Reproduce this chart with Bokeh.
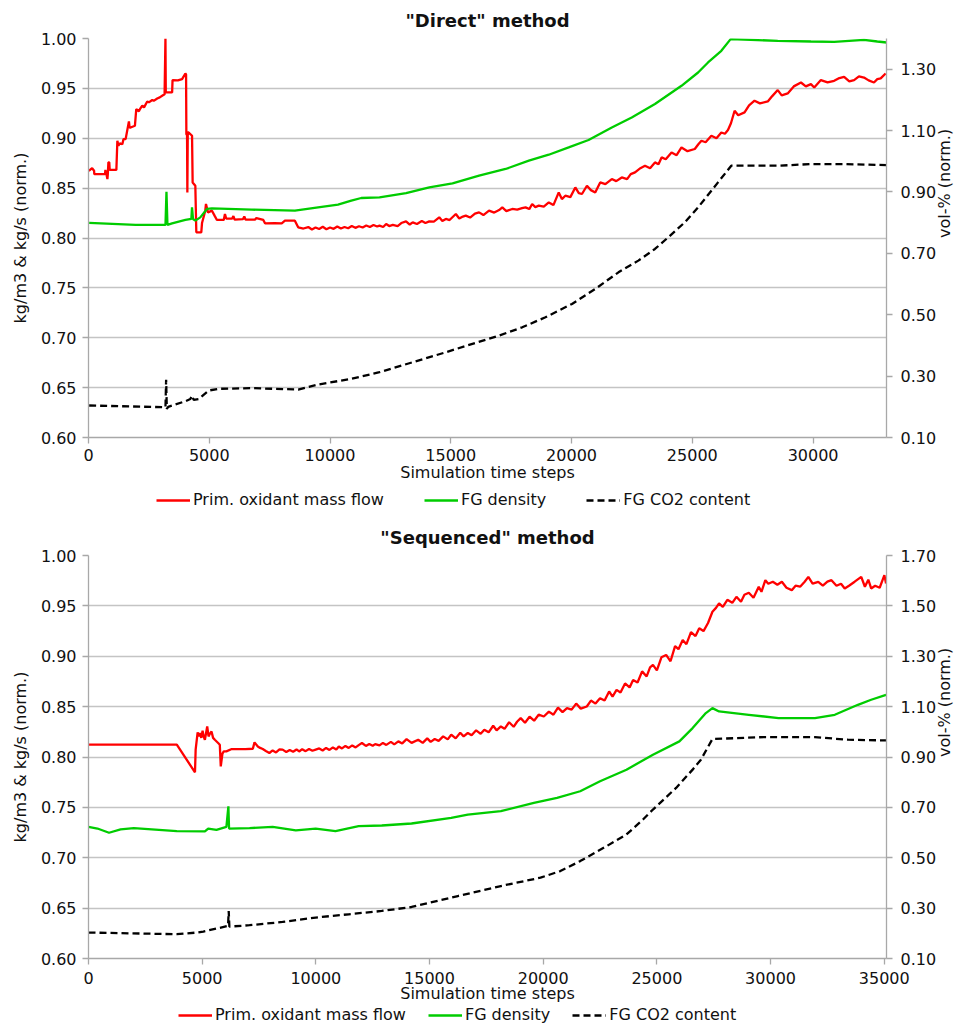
import math
from bokeh.plotting import figure
from bokeh.models import (Range1d, LinearAxis, FixedTicker, NumeralTickFormatter,
                          Legend, LegendItem)
from bokeh.layouts import column
from bokeh.embed import file_html
from bokeh.resources import INLINE

FONT = "DejaVu Sans"
FONT_SIZE = "16px"
RED = "#FF0000"
GREEN = "#00CC00"
BLACK = "#000000"
GRID = "#C4C4C4"
AXIS = "#A8A8A8"
TEXT = "#111111"

# ---------------------------------------------------------------- ticks & labels
left_ticks = [0.60, 0.65, 0.70, 0.75, 0.80, 0.85, 0.90, 0.95, 1.00]
direct_x_ticks = [0, 5000, 10000, 15000, 20000, 25000, 30000]
direct_vol_ticks = [0.10, 0.30, 0.50, 0.70, 0.90, 1.10, 1.30]
seq_x_ticks = [0, 5000, 10000, 15000, 20000, 25000, 30000, 35000]
seq_vol_ticks = [0.10, 0.30, 0.50, 0.70, 0.90, 1.10, 1.30, 1.50, 1.70]
series_names = ["Prim. oxidant mass flow", "FG density", "FG CO2 content"]

# ---------------------------------------------------------------- "Direct" method
direct_flow_x = [
    0, 25, 150, 231, 240, 684, 700, 740, 783, 800, 824, 860, 878, 1154, 1195, 1240,
    1300, 1401, 1450, 1538, 1674, 1700, 1744, 1921, 1978, 2086, 2150, 2226, 2300,
    2432, 2500, 2638, 2700, 2844, 2950, 3050, 3150, 3186, 3200, 3462, 3480, 3700,
    3875, 4011, 4040, 4052, 4080, 4093, 4110, 4147, 4287, 4312, 4423, 4464, 4670,
    4700, 4835, 4864, 4946, 5111, 5219, 5317, 5600, 5650, 5700, 5950, 6000, 6050,
    6400, 6450, 6500, 6900, 6950, 7238, 7308, 7700, 8000, 8133, 8545, 8681,
    8900, 9100, 9250, 9400, 9550, 9700, 9850, 10000, 10150, 10300, 10450, 10600,
    10750, 10900, 11050, 11200, 11350, 11500, 11650, 11800, 11950,
    12049, 12200, 12324, 12450, 12599, 12800, 12950, 13148, 13300, 13423, 13600,
    13800, 13950, 14110, 14300, 14522, 14650, 14797, 14950, 15209, 15350, 15500,
    15621, 15800, 16000, 16171, 16350, 16583, 16800, 17000, 17133, 17300, 17545,
    17750, 17950, 18095, 18250, 18369, 18500, 18644, 18850, 19057, 19250, 19469,
    19600, 19743, 19950, 20156, 20300, 20431, 20637, 20800, 20980, 21186, 21400,
    21667, 21850, 22079, 22300, 22450, 22629, 22850, 23041, 23250, 23453, 23600,
    23728, 23900, 24140, 24350, 24552, 24800, 25102, 25250, 25377, 25550, 25789,
    26000, 26201, 26350, 26476, 26600, 26751, 26900, 27163, 27350, 27575, 27800,
    28125, 28300, 28537, 28700, 28949, 29200, 29499, 29700, 29911, 30048, 30323,
    30600, 30873, 31050, 31285, 31500, 31697, 31900, 32109, 32300, 32521, 32659,
    32800, 33002,
]
direct_flow = [
    0.868, 0.8675, 0.870, 0.8675, 0.8641, 0.8641, 0.8682, 0.8641, 0.8591, 0.8641,
    0.8758, 0.8758, 0.8682, 0.8682, 0.8975, 0.8925, 0.8950, 0.8940, 0.8992, 0.8992,
    0.9169, 0.9108, 0.9108, 0.9125, 0.9293, 0.9270, 0.9300, 0.9326, 0.9310, 0.9369,
    0.9360, 0.9383, 0.9375, 0.9399, 0.9410, 0.9426, 0.9440, 1.000, 0.9459, 0.9459,
    0.9583, 0.9580, 0.9593, 0.9649, 0.9640, 0.9042, 0.9030, 0.8457, 0.9058, 0.9058,
    0.9025, 0.8557, 0.8524, 0.8057, 0.8057, 0.8150, 0.8274, 0.8341, 0.8257, 0.8274,
    0.8224, 0.8181, 0.8181, 0.8240, 0.8195, 0.8195, 0.8220, 0.8185, 0.8190, 0.8215,
    0.8185, 0.8185, 0.8200, 0.8181, 0.8147, 0.8150, 0.8147, 0.8174, 0.8174, 0.8107,
    0.8095, 0.8110, 0.8085, 0.8105, 0.8090, 0.8112, 0.8088, 0.8105, 0.8092, 0.8115,
    0.8095, 0.8110, 0.8098, 0.8120, 0.8102, 0.8118, 0.8105, 0.8125, 0.8110, 0.8130,
    0.8115,
    0.8124, 0.8110, 0.8141, 0.8120, 0.8131, 0.8120, 0.8150, 0.8167, 0.8135, 0.8157,
    0.8140, 0.8170, 0.8150, 0.8167, 0.8165, 0.8207, 0.8170, 0.8191, 0.8180, 0.8241,
    0.8195, 0.8215, 0.8224, 0.8205, 0.8245, 0.8257, 0.8230, 0.8274, 0.8255, 0.8280,
    0.8307, 0.8270, 0.8291, 0.8285, 0.8300, 0.8307, 0.8290, 0.8341, 0.8310, 0.8324,
    0.8315, 0.8357, 0.8330, 0.8457, 0.8390, 0.8424, 0.8410, 0.8507, 0.8450, 0.8441,
    0.8524, 0.8480, 0.8457, 0.8557, 0.8540, 0.8591, 0.8570, 0.8607, 0.8590, 0.8640,
    0.8658, 0.8700, 0.8725, 0.8700, 0.8758, 0.8740, 0.8808, 0.8790, 0.8858, 0.8830,
    0.8908, 0.8870, 0.8892, 0.8940, 0.8975, 0.8960, 0.9025, 0.9000, 0.9058, 0.9045,
    0.9082, 0.9150, 0.9276, 0.9230, 0.9259, 0.9330, 0.9376, 0.9350, 0.9369, 0.9420,
    0.9483, 0.9430, 0.9449, 0.9520, 0.9559, 0.9520, 0.9543, 0.9509, 0.9583, 0.9560,
    0.9576, 0.9600, 0.9616, 0.9570, 0.9583, 0.9620, 0.9609, 0.9580, 0.9559, 0.9593,
    0.9600, 0.9649,
]

direct_density_x = [
    26, 1950, 3187, 3228, 3269, 3461, 4011, 4258, 4286, 4327, 4423, 4629, 4904,
    5110, 6759, 8545, 9507, 10331, 10881, 11293, 12049, 13148, 14110, 15072, 16171,
    17270, 18232, 19056, 19881, 20705, 21667, 22491, 23453, 24552, 25239, 25651,
    26201, 26586, 28537, 29911, 30873, 32109, 32659, 33044,
]
direct_density = [
    0.8151, 0.8131, 0.8131, 0.8464, 0.8131, 0.8147, 0.8181, 0.8191, 0.8307, 0.8191,
    0.8174, 0.8207, 0.8291, 0.8297, 0.8284, 0.8274, 0.8307, 0.8334, 0.8374, 0.8401,
    0.8407, 0.8451, 0.8507, 0.8547, 0.8625, 0.8692, 0.8775, 0.8835, 0.8908, 0.8982,
    0.9108, 0.9209, 0.9343, 0.9526, 0.9659, 0.9760, 0.9877, 0.9994, 0.9977, 0.9970,
    0.9967, 0.9987, 0.9970, 0.9960,
]

direct_co2_x = [
    26, 3187, 3214, 3242, 3300, 3461, 4011, 4217, 4286, 4355, 4561, 4973, 5385,
    6759, 8683, 9507, 10881, 12049, 13423, 14797, 15896, 16995, 17957, 18919,
    20018, 20980, 21942, 22766, 23453, 24003, 24689, 25239, 25789, 26064, 26613,
    28537, 29911, 31285, 33044,
]
direct_co2 = [
    0.2042, 0.1987, 0.2878, 0.1933, 0.2000, 0.2042, 0.2182, 0.2254, 0.2367, 0.2226,
    0.2254, 0.2530, 0.2586, 0.2608, 0.2563, 0.2726, 0.2911, 0.3127, 0.3453, 0.3778,
    0.4050, 0.4320, 0.4590, 0.4917, 0.5352, 0.5840, 0.6382, 0.6763, 0.7143, 0.7521,
    0.8010, 0.8498, 0.9041, 0.9312, 0.9855, 0.9855, 0.9909, 0.9909, 0.9877,
]

# ---------------------------------------------------------------- "Sequenced" method
seq_flow_x = [
    0, 3884, 4684, 4713, 4800, 4850, 4902, 4960, 5018, 5070, 5120, 5222, 5280, 5338,
    5411, 5480, 5556, 5702, 5775, 5818, 5891, 5950, 6065, 6300, 6574, 6900, 7229,
    7302, 7447, 7550, 7665, 7800, 7956, 8100, 8250, 8400, 8538, 8700, 8850, 9000,
    9150, 9265, 9400, 9550, 9700, 9850, 9992, 10150, 10300, 10450, 10600, 10750,
    10900, 11010, 11150, 11300, 11446, 11600, 11750, 11900, 12028, 12200, 12350,
    12500, 12610, 12800, 12950, 13100, 13300, 13450, 13628, 13800, 13991, 14210,
    14501, 14700, 14900, 15050, 15228, 15400, 15600, 15800, 15955, 16150, 16350,
    16500, 16683, 16850, 17050, 17250, 17410, 17600, 17800, 17950, 18137, 18300,
    18500, 18700, 18850, 19009, 19200, 19400, 19600, 19800, 20027, 20250, 20450,
    20650, 20850, 21046, 21250, 21450, 21650, 21918, 22100, 22300, 22500, 22700,
    22900, 23050, 23227, 23400, 23600, 23800, 23954, 24150, 24350, 24550, 24700,
    24827, 25000, 25200, 25408, 25600, 25800, 25950, 26136, 26300, 26500, 26700,
    26863, 27050, 27250, 27444, 27600, 27735, 27900, 28100, 28317, 28500, 28700,
    28850, 29044, 29250, 29481, 29600, 29771, 29900, 30100, 30300, 30498, 30700,
    30935, 31100, 31300, 31500, 31662, 31850, 32098, 32300, 32500, 32680, 32900,
    33100, 33262, 33450, 33700, 33989, 34150, 34300, 34425, 34600, 34800, 35007,
    35080,
]
seq_flow = [
    0.8122, 0.8122, 0.7848, 0.8073, 0.8244, 0.8204, 0.8238, 0.8190, 0.8260, 0.8200,
    0.8171, 0.8303, 0.8204, 0.8230, 0.8254, 0.8190, 0.8171, 0.8139, 0.8122, 0.7907,
    0.8033, 0.8056, 0.8056, 0.8079, 0.8079, 0.8079, 0.8082, 0.8145, 0.8105, 0.8090,
    0.8079, 0.8060, 0.8040, 0.8065, 0.8045, 0.8075, 0.8073, 0.8050, 0.8070, 0.8052,
    0.8075, 0.8055, 0.8078, 0.8058, 0.8080, 0.8062, 0.8073, 0.8085, 0.8065, 0.8090,
    0.8070, 0.8095, 0.8075, 0.8105, 0.8085, 0.8110, 0.8090, 0.8115, 0.8095, 0.8120,
    0.8139, 0.8110, 0.8130, 0.8112, 0.8128, 0.8115, 0.8140, 0.8120, 0.8150, 0.8125,
    0.8155, 0.8135, 0.8178, 0.8140,
    0.8171, 0.8140, 0.8185, 0.8150, 0.8178, 0.8160, 0.8205, 0.8175, 0.8221, 0.8185,
    0.8240, 0.8205, 0.8238, 0.8215, 0.8265, 0.8230, 0.8270, 0.8245, 0.8310, 0.8265,
    0.8303, 0.8280, 0.8345, 0.8300, 0.8350, 0.8386, 0.8340, 0.8400, 0.8360, 0.8420,
    0.8402, 0.8450, 0.8420, 0.8490, 0.8445, 0.8485, 0.8470, 0.8530, 0.8480, 0.8501,
    0.8560, 0.8530, 0.8584, 0.8560, 0.8650, 0.8600, 0.8666, 0.8640, 0.8730, 0.8690,
    0.8765, 0.8740, 0.8850, 0.8800, 0.8890, 0.8914, 0.8860, 0.8990, 0.9013, 0.8950,
    0.9100, 0.9070, 0.9161, 0.9120, 0.9240, 0.9200, 0.9277, 0.9250, 0.9330, 0.9442,
    0.9480, 0.9525, 0.9490, 0.9560, 0.9530, 0.9590, 0.9540, 0.9610, 0.9630, 0.9580,
    0.9689, 0.9640, 0.9755, 0.9720, 0.9740, 0.9710, 0.9739, 0.9680, 0.9656, 0.9700,
    0.9690, 0.9740, 0.9788, 0.9720, 0.9739, 0.9700, 0.9740, 0.9755, 0.9700, 0.9720,
    0.9673, 0.9700, 0.9740, 0.9788, 0.9690, 0.9760, 0.9673, 0.9700, 0.9680, 0.9805,
    0.9723,
]

seq_density_x = [
    0, 394, 903, 1412, 1993, 3884, 5120, 5266, 5629, 6065, 6153, 6182, 7084, 8101,
    9119, 9992, 10865, 11883, 12901, 14210, 15955, 16683, 18137, 19591, 20609,
    21627, 22500, 23663, 24827, 25990, 26572, 27154, 27444, 27735, 29044, 30353,
    31953, 32825, 33843, 34425, 35080,
]
seq_density = [
    0.7307, 0.7290, 0.7248, 0.7281, 0.7294, 0.7264, 0.7261, 0.7290, 0.7277, 0.7307,
    0.7511, 0.7290, 0.7294, 0.7307, 0.7271, 0.7290, 0.7264, 0.7313, 0.7320, 0.7340,
    0.7396, 0.7429, 0.7462, 0.7545, 0.7594, 0.7660, 0.7759, 0.7874, 0.8023, 0.8155,
    0.8287, 0.8436, 0.8485, 0.8452, 0.8419, 0.8386, 0.8386, 0.8419, 0.8518, 0.8568,
    0.8617,
]

seq_co2_x = [
    0, 3884, 4757, 5048, 5629, 6138, 6167, 6196, 7084, 8538, 9992, 11446, 12901,
    14210, 16247, 18137, 19882, 20755, 21627, 22791, 23663, 24390, 24827, 25845,
    26572, 26936, 27444, 29771, 31953, 33407, 35080,
]
seq_co2 = [
    0.2030, 0.1964, 0.2030, 0.2071, 0.2190, 0.2293, 0.2887, 0.2267, 0.2321, 0.2451,
    0.2625, 0.2756, 0.2887, 0.3045, 0.3481, 0.3877, 0.4209, 0.4471, 0.4867, 0.5461,
    0.5924, 0.6518, 0.6914, 0.7773, 0.8498, 0.8894, 0.9714, 0.9793, 0.9790, 0.9686,
    0.9658,
]

LINE_STYLES = [dict(line_color=RED, line_width=2.3),
               dict(line_color=GREEN, line_width=2.3),
               dict(line_color=BLACK, line_width=2.3, line_dash="7 4")]


def style_axis(ax):
    ax.axis_line_color = AXIS
    ax.axis_line_width = 1.3
    ax.major_tick_line_color = AXIS
    ax.major_tick_line_width = 1.3
    ax.major_tick_out = 6
    ax.major_tick_in = 0
    ax.minor_tick_line_color = None
    ax.major_label_text_font = FONT
    ax.major_label_text_font_size = FONT_SIZE
    ax.major_label_text_color = TEXT
    ax.axis_label_text_font = FONT
    ax.axis_label_text_font_size = FONT_SIZE
    ax.axis_label_text_font_style = "normal"
    ax.axis_label_text_color = TEXT


def make_panel(title, xmax, vol_max, x_ticks, vol_ticks,
               fx, fy, dx, dy, cx, cy, height, b_top, b_bottom, b_left, b_right,
               x_standoffs):
    p = figure(width=966, height=height,
               x_range=Range1d(0, xmax), y_range=Range1d(0.6, 1.0),
               output_backend="svg", toolbar_location=None,
               min_border_top=b_top, min_border_bottom=b_bottom,
               min_border_left=b_left, min_border_right=b_right)
    p.outline_line_color = None
    p.background_fill_color = "white"
    p.border_fill_color = "white"

    p.title.text = title
    p.title.align = "center"
    p.title.text_font = FONT
    p.title.text_font_size = "18px"
    p.title.text_font_style = "bold"
    p.title.text_color = TEXT
    p.title.standoff = 15

    p.xgrid.visible = False
    p.ygrid.ticker = FixedTicker(ticks=left_ticks)
    p.ygrid.grid_line_color = GRID
    p.ygrid.grid_line_width = 1.3

    xa = p.xaxis[0]
    xa.ticker = FixedTicker(ticks=x_ticks)
    xa.axis_label = "Simulation time steps"
    style_axis(xa)
    xa.major_label_standoff = x_standoffs[0]
    xa.axis_label_standoff = x_standoffs[1]

    ya = p.yaxis[0]
    ya.ticker = FixedTicker(ticks=left_ticks)
    ya.formatter = NumeralTickFormatter(format="0.00")
    ya.axis_label = "kg/m3 & kg/s (norm.)"
    style_axis(ya)
    ya.major_label_standoff = 6
    ya.axis_label_standoff = 8

    p.extra_y_ranges = {"vol": Range1d(0.1, vol_max)}
    ra = LinearAxis(y_range_name="vol", ticker=FixedTicker(ticks=vol_ticks),
                    formatter=NumeralTickFormatter(format="0.00"),
                    axis_label="vol-% (norm.)")
    style_axis(ra)
    ra.major_label_standoff = 8
    ra.axis_label_standoff = 5
    ra.axis_label_orientation = math.pi / 2   # read bottom-to-top like the left title
    p.add_layout(ra, "right")

    p.line(fx, fy, **LINE_STYLES[0])
    p.line(dx, dy, **LINE_STYLES[1])
    p.line(cx, cy, y_range_name="vol", **LINE_STYLES[2])
    return p


def legend_strip(height, pos, spacing):
    # a frameless strip holding the horizontal series key under each panel;
    # the key lines carry a single NaN point so only their legend swatches show
    f = figure(width=966, height=height, x_range=Range1d(0, 1), y_range=Range1d(0, 1),
               output_backend="svg", toolbar_location=None, min_border=0,
               x_axis_location=None, y_axis_location=None)
    f.outline_line_color = None
    f.xgrid.visible = False
    f.ygrid.visible = False
    keys = [f.line([math.nan], [math.nan], **style) for style in LINE_STYLES]
    legend = Legend(items=[LegendItem(label=name, renderers=[r])
                           for name, r in zip(series_names, keys)],
                    orientation="horizontal", location=pos)
    legend.label_text_font = FONT
    legend.label_text_font_size = FONT_SIZE
    legend.label_text_color = TEXT
    legend.glyph_width = 34
    legend.glyph_height = 16
    legend.label_height = 16
    legend.label_standoff = 3
    legend.spacing = spacing
    legend.padding = 0
    legend.margin = 0
    legend.border_line_color = None
    legend.background_fill_alpha = 0
    f.add_layout(legend)
    return f


top = make_panel('"Direct" method', 33040, 1.40, direct_x_ticks, direct_vol_ticks,
                 direct_flow_x, direct_flow, direct_density_x, direct_density,
                 direct_co2_x, direct_co2, 490, 38, 53, 88, 77, (5, -1))
top_key = legend_strip(27, (68, 8), 40)
bottom = make_panel('"Sequenced" method', 35100, 1.70, seq_x_ticks, seq_vol_ticks,
                    seq_flow_x, seq_flow, seq_density_x, seq_density,
                    seq_co2_x, seq_co2, 488, 38, 46, 84, 77, (7, -3))
bottom_key = legend_strip(22, (90, 3), 22)

layout = column(top, top_key, bottom, bottom_key, spacing=0)
open("out.html", "w").write(file_html(layout, INLINE))
